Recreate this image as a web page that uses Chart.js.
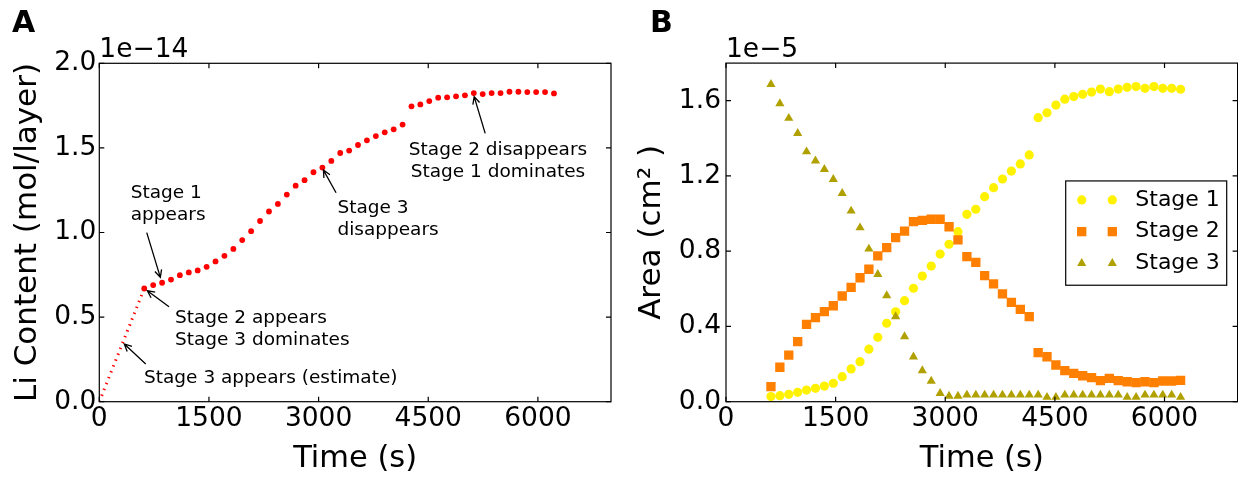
<!DOCTYPE html>
<html>
<head>
<meta charset="utf-8">
<script src="https://cdn.jsdelivr.net/npm/chart.js@4.4.1/dist/chart.umd.min.js"></script>
<style>
  html, body { margin: 0; padding: 0; background: #fff; }
  #wrap { position: relative; width: 1238px; height: 477px; overflow: hidden; }
  canvas { position: absolute; top: 0; }
  #cvA { left: 0; }
  #cvB { left: 620px; }
</style>
</head>
<body>
<div id="wrap">
  <canvas id="cvA" width="620" height="477"></canvas>
  <!-- wider than its slot; the spare strip on the right is clipped by #wrap -->
  <canvas id="cvB" width="630" height="477"></canvas>
</div>
<script>
// ── sampling times (s), same for both panels ──
const times = [615, 737, 859, 981, 1102, 1224, 1346, 1468, 1590, 1712,
  1834, 1955, 2077, 2199, 2321, 2443, 2565, 2686, 2808, 2930,
  3052, 3174, 3296, 3418, 3539, 3661, 3783, 3905, 4027, 4149,
  4271, 4392, 4514, 4636, 4758, 4880, 5002, 5123, 5245, 5367,
  5489, 5611, 5733, 5855, 5976, 6098, 6220];

// ── panel A: Li content, x1e-14 mol/layer ──
const liContent = [0.669, 0.689, 0.703, 0.722, 0.748, 0.764, 0.776, 0.797, 0.829, 0.862,
  0.903, 0.955, 1.008, 1.068, 1.124, 1.169, 1.224, 1.277, 1.309, 1.356,
  1.384, 1.423, 1.470, 1.484, 1.517, 1.545, 1.570, 1.592, 1.610, 1.638,
  1.746, 1.757, 1.777, 1.797, 1.799, 1.805, 1.811, 1.824, 1.818, 1.824,
  1.824, 1.832, 1.832, 1.830, 1.830, 1.830, 1.822];

// ── panel B: area of each stage, x1e-5 cm^2 ──
const stage1 = [0.027, 0.032, 0.039, 0.050, 0.062, 0.071, 0.083, 0.098, 0.133, 0.174,
  0.213, 0.279, 0.342, 0.417, 0.478, 0.537, 0.603, 0.668, 0.721, 0.785,
  0.837, 0.904, 0.996, 1.023, 1.090, 1.138, 1.184, 1.226, 1.264, 1.312,
  1.510, 1.536, 1.577, 1.608, 1.622, 1.634, 1.646, 1.662, 1.648, 1.662,
  1.671, 1.675, 1.666, 1.675, 1.666, 1.666, 1.661];
const stage2 = [0.080, 0.183, 0.248, 0.319, 0.411, 0.447, 0.479, 0.510, 0.562, 0.608,
  0.659, 0.704, 0.775, 0.819, 0.872, 0.907, 0.957, 0.964, 0.970, 0.970,
  0.930, 0.860, 0.771, 0.741, 0.670, 0.626, 0.573, 0.528, 0.491, 0.452,
  0.261, 0.239, 0.195, 0.165, 0.151, 0.138, 0.128, 0.112, 0.124, 0.112,
  0.106, 0.101, 0.106, 0.101, 0.110, 0.110, 0.113];
const stage3 = [1.687, 1.585, 1.507, 1.427, 1.329, 1.280, 1.235, 1.182, 1.108, 1.014,
  0.925, 0.812, 0.677, 0.564, 0.452, 0.346, 0.239, 0.165, 0.110, 0.045,
  0.030, 0.030, 0.036, 0.036, 0.036, 0.036, 0.036, 0.036, 0.036, 0.036,
  0.036, 0.024, 0.024, 0.036, 0.036, 0.036, 0.036, 0.036, 0.036, 0.036,
  0.024, 0.024, 0.036, 0.036, 0.036, 0.036, 0.024];

const timeTicks = [0, 1500, 3000, 4500, 6000];
const liTicks = [0, 0.5, 1.0, 1.5, 2.0];
const areaTicks = [0, 0.4, 0.8, 1.2, 1.6];
const stageNames = ['Stage 1', 'Stage 2', 'Stage 3'];

// annotations for panel A, anchored in data units (first text line / arrow tail / arrow head)
const notesA = [
  { lines: ['Stage 3 appears (estimate)'], align: 'left', at: [612, 0.138], tail: [635, 0.223], head: [342, 0.341] },
  { lines: ['Stage 2 appears', 'Stage 3 dominates'], align: 'left', at: [1036, 0.493], tail: [954, 0.561], head: [657, 0.656] },
  { lines: ['Stage 1', 'appears'], align: 'left', at: [430, 1.232], tail: [649, 0.999], head: [835, 0.735] },
  { lines: ['Stage 3', 'disappears'], align: 'left', at: [3257, 1.143], tail: [3239, 1.235], head: [3066, 1.369] },
  { lines: ['Stage 2 disappears', 'Stage 1 dominates'], align: 'center', at: [5454, 1.488], tail: [5279, 1.586], head: [5128, 1.803] }
];

const FAM = '"DejaVu Sans"';
Chart.defaults.font.family = 'DejaVu Sans';
Chart.defaults.color = '#000';

const pts = ys => times.map((t, i) => ({ x: t, y: ys[i] }));

function xAxis() {
  return {
    type: 'linear', min: 0, max: 7000,
    afterBuildTicks: s => { s.ticks = timeTicks.map(v => ({ value: v })); },
    afterFit: s => { s.height = 75.3; s.paddingLeft = 0; s.paddingRight = 0; },
    grid: { display: false, drawTicks: false },
    border: { display: false },
    ticks: { font: { size: 26.5 }, color: '#000', padding: 2, maxRotation: 0, autoSkip: false, callback: v => String(v) },
    title: { display: true, text: 'Time (s)', font: { size: 30.5 }, color: '#000', padding: { top: 0, bottom: 0 } }
  };
}

function yAxis(max, ticks, width, title, titlePad, tickPad) {
  return {
    type: 'linear', min: 0, max: max,
    afterBuildTicks: s => { s.ticks = ticks.map(v => ({ value: v })); },
    afterFit: s => { s.width = width; s.paddingTop = 0; s.paddingBottom = 0; },
    grid: { display: false, drawTicks: false },
    border: { display: false },
    ticks: { font: { size: 26.5 }, color: '#000', padding: tickPad, autoSkip: false, callback: v => v.toFixed(1) },
    title: { display: true, text: title, font: { size: 31 }, color: '#000', padding: { top: titlePad, bottom: 0 } }
  };
}

// box, inward ticks on all four sides, offset label and panel letter
const framePlugin = {
  id: 'frame',
  afterDatasetsDraw(chart, args, o) {
    const { ctx, chartArea: a, scales: { x, y } } = chart;
    ctx.save();
    ctx.strokeStyle = '#000';
    ctx.lineWidth = 1.2;
    ctx.strokeRect(a.left, a.top, a.right - a.left, a.bottom - a.top);
    ctx.beginPath();
    x.ticks.forEach(t => {
      const px = x.getPixelForValue(t.value);
      ctx.moveTo(px, a.bottom); ctx.lineTo(px, a.bottom - 5);
      ctx.moveTo(px, a.top); ctx.lineTo(px, a.top + 5);
    });
    y.ticks.forEach(t => {
      const py = y.getPixelForValue(t.value);
      ctx.moveTo(a.left, py); ctx.lineTo(a.left + 5, py);
      ctx.moveTo(a.right, py); ctx.lineTo(a.right - 5, py);
    });
    ctx.stroke();
    ctx.fillStyle = '#000';
    ctx.textBaseline = 'alphabetic';
    ctx.textAlign = 'left';
    ctx.font = '26.5px ' + FAM;
    ctx.fillText(o.offset, a.left, a.top - 6);
    ctx.font = 'bold 30px ' + FAM;
    ctx.fillText(o.letter, o.letterX, 32);
    ctx.restore();
  }
};

function arrow(ctx, x0, y0, x1, y1) {
  const ang = Math.atan2(y1 - y0, x1 - x0), L = 8, w = 0.45;
  ctx.beginPath();
  ctx.moveTo(x0, y0); ctx.lineTo(x1, y1);
  ctx.moveTo(x1 - L * Math.cos(ang - w), y1 - L * Math.sin(ang - w));
  ctx.lineTo(x1, y1);
  ctx.lineTo(x1 - L * Math.cos(ang + w), y1 - L * Math.sin(ang + w));
  ctx.stroke();
}

const notePlugin = {
  id: 'notes',
  afterDatasetsDraw(chart, args, o) {
    const { ctx, scales: { x, y } } = chart;
    ctx.save();
    ctx.font = '18.5px ' + FAM;
    ctx.fillStyle = '#000';
    ctx.strokeStyle = '#000';
    ctx.lineWidth = 1.3;
    ctx.textBaseline = 'middle';
    o.items.forEach(n => {
      ctx.textAlign = n.align;
      const tx = x.getPixelForValue(n.at[0]), ty = y.getPixelForValue(n.at[1]);
      n.lines.forEach((s, i) => ctx.fillText(s, tx, ty + i * 22));
      arrow(ctx, x.getPixelForValue(n.tail[0]), y.getPixelForValue(n.tail[1]),
        x.getPixelForValue(n.head[0]), y.getPixelForValue(n.head[1]));
    });
    ctx.restore();
  }
};

// framed key with two markers per entry
const keyPlugin = {
  id: 'stageKey',
  afterDatasetsDraw(chart, args, o) {
    const { ctx, chartArea: a } = chart;
    const bx = a.left + o.fx * (a.right - a.left), by = a.top + o.fy * (a.bottom - a.top);
    ctx.save();
    ctx.fillStyle = '#fff';
    ctx.fillRect(bx, by, o.w, o.h);
    ctx.strokeStyle = '#000';
    ctx.lineWidth = 1.2;
    ctx.strokeRect(bx, by, o.w, o.h);
    ctx.font = '22px ' + FAM;
    ctx.textBaseline = 'middle';
    ctx.textAlign = 'left';
    chart.data.datasets.forEach((ds, i) => {
      const ry = by + o.rows[i];
      ctx.fillStyle = ds.backgroundColor;
      [16, 46.6].forEach(dx => Chart.helpers.drawPoint(ctx,
        { pointStyle: ds.pointStyle, radius: ds.pointRadius, rotation: 0, borderWidth: 0 }, bx + dx, ry));
      ctx.fillStyle = '#000';
      ctx.fillText(ds.label, bx + 69.6, ry);
    });
    ctx.restore();
  }
};

new Chart(document.getElementById('cvA'), {
  type: 'scatter',
  data: {
    datasets: [
      { label: 'Li', data: pts(liContent), pointStyle: 'circle', pointRadius: 2.9,
        backgroundColor: '#ff0000', borderWidth: 0, order: 0 },
      { label: 'ramp', data: [{ x: 0, y: 0 }, { x: times[0], y: liContent[0] }], showLine: true,
        pointRadius: 0, borderColor: '#ff0000', borderWidth: 3, borderDash: [1.4, 4.9],
        borderCapStyle: 'butt', order: 1 }
    ]
  },
  options: {
    responsive: false, animation: false, devicePixelRatio: 1,
    layout: { padding: { left: 0, right: 9, top: 63.3, bottom: 0 } },
    plugins: {
      legend: { display: false }, tooltip: { enabled: false },
      frame: { offset: '1e\u221214', letter: 'A', letterX: 12 },
      notes: { items: notesA }
    },
    scales: { x: xAxis(), y: yAxis(2.0, liTicks, 99.3, 'Li Content (mol/layer)', 9, 3) }
  },
  plugins: [framePlugin, notePlugin]
});

new Chart(document.getElementById('cvB'), {
  type: 'scatter',
  data: {
    datasets: [
      { label: stageNames[0], data: pts(stage1), pointStyle: 'circle', pointRadius: 4.6,
        backgroundColor: '#fff200', borderWidth: 0, order: 2 },
      { label: stageNames[1], data: pts(stage2), pointStyle: 'rect', pointRadius: 6.6,
        backgroundColor: '#ff7f00', borderWidth: 0, order: 1 },
      { label: stageNames[2], data: pts(stage3), pointStyle: 'triangle', pointRadius: 5.3,
        backgroundColor: '#b0a000', borderWidth: 0, order: 0 }
    ]
  },
  options: {
    responsive: false, animation: false, devicePixelRatio: 1,
    layout: { padding: { left: 0, right: 12.4, top: 63.1, bottom: 0 } },
    plugins: {
      legend: { display: false }, tooltip: { enabled: false },
      frame: { offset: '1e\u22125', letter: 'B', letterX: 30 },
      stageKey: { fx: 0.664, fy: 0.348, w: 161, h: 104.3, rows: [19, 50.7, 82.3] }
    },
    scales: { x: xAxis(), y: yAxis(1.8, areaTicks, 106, 'Area (cm\u00b2 )', 13, 5) }
  },
  plugins: [framePlugin, keyPlugin]
});
</script>
</body>
</html>
